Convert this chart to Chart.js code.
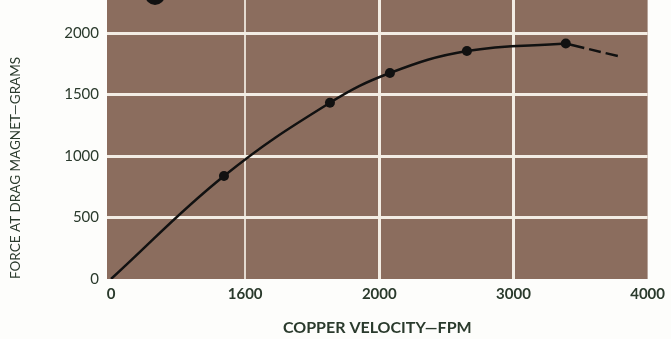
<!DOCTYPE html>
<html>
<head>
<meta charset="utf-8">
<script src="https://cdn.jsdelivr.net/npm/chart.js@4"></script>
<style>
html, body { margin: 0; padding: 0; background: #fdfdfb; }
#wrap { width: 671px; height: 339px; }
</style>
</head>
<body>
<div id="wrap"><canvas id="dragChart" width="671" height="339"></canvas></div>
<script>
// Axis ticks (the 1000 label is printed as "1600" in the original)
const xTicks = [0, 1000, 2000, 3000, 4000];
const xTickLabels = ["0", "1600", "2000", "3000", "4000"];
const yTicks = [0, 500, 1000, 1500, 2000];
const yTickLabels = ["0", "500", "1000", "1500", "2000"];

// Measured curve (copper velocity in FPM, force in grams)
const velocity = [0, 842, 1632, 2079, 2653, 3390];
const force = [0, 838, 1434, 1676, 1855, 1916];

// Dashed extrapolation past the last point
const extVelocity = [3390, 3778];
const extForce = [1916, 1814];

// Marker cut off at the top edge
const markVelocity = [328];
const markForce = [2311];

const textColor = "#2a3a2c";
const gridColor = "#f3ede4";

function pairs(xs, ys) {
    return xs.map((x, i) => ({ x: x, y: ys[i] }));
}

const plotBg = {
    id: "plotBg",
    beforeDraw(chart) {
        const { ctx, chartArea: a } = chart;
        ctx.save();
        ctx.fillStyle = "#8b6d5e";
        ctx.fillRect(a.left, a.top, a.right - a.left, a.bottom - a.top);
        ctx.restore();
    }
};

new Chart(document.getElementById("dragChart"), {
    type: "line",
    data: {
        datasets: [
            {
                label: "Force",
                data: pairs(velocity, force),
                borderColor: "#111",
                backgroundColor: "#111",
                borderWidth: 2.5,
                pointRadius: [0, 5, 5, 5, 5, 5],
                pointBackgroundColor: "#111",
                pointBorderWidth: 0,
                tension: 0.4,
                fill: false
            },
            {
                label: "Extrapolated",
                data: pairs(extVelocity, extForce),
                borderColor: "#111",
                borderWidth: 2.5,
                borderDash: [19, 5, 12, 5],
                pointRadius: 0,
                fill: false
            },
            {
                label: "Marker",
                data: pairs(markVelocity, markForce),
                showLine: false,
                pointRadius: 10,
                pointBackgroundColor: "#111",
                pointBorderWidth: 0
            }
        ]
    },
    options: {
        responsive: false,
        animation: false,
        devicePixelRatio: 1,
        layout: {
            autoPadding: false,
            padding: { left: 0, right: 23, top: 0, bottom: 0 }
        },
        plugins: {
            legend: { display: false },
            tooltip: { enabled: false }
        },
        scales: {
            x: {
                type: "linear",
                min: -30,
                max: 4000,
                afterBuildTicks: function(scale) {
                    scale.ticks = xTicks.map(v => ({ value: v }));
                },
                afterFit: function(scale) {
                    scale.height = 60;
                },
                border: { display: false },
                grid: {
                    drawTicks: false,
                    color: function(ctx) {
                        const v = ctx.tick ? ctx.tick.value : null;
                        if (v === 0 || v === 4000) return "rgba(0,0,0,0)";
                        if (v === 1000) return "rgba(243,237,228,0.85)";
                        return gridColor;
                    },
                    lineWidth: function(ctx) {
                        return ctx.tick && ctx.tick.value === 1000 ? 2 : 3;
                    }
                },
                ticks: {
                    padding: 6,
                    color: textColor,
                    font: { family: "Lato", size: 15, weight: "bold" },
                    callback: function(value, index) {
                        return xTickLabels[index];
                    }
                },
                title: {
                    display: true,
                    text: "COPPER VELOCITY—FPM",
                    color: textColor,
                    font: { family: "Lato", size: 16, weight: "bold" },
                    padding: { top: 3, bottom: 2 }
                }
            },
            y: {
                type: "linear",
                min: 0,
                max: 2270,
                afterBuildTicks: function(scale) {
                    scale.ticks = yTicks.map(v => ({ value: v }));
                },
                afterFit: function(scale) {
                    scale.width = 107;
                    scale.paddingTop = 0;
                    scale.paddingBottom = 0;
                },
                border: { display: false },
                grid: {
                    drawTicks: false,
                    color: function(ctx) {
                        return ctx.tick && ctx.tick.value === 0 ? "rgba(0,0,0,0)" : gridColor;
                    },
                    lineWidth: 3
                },
                ticks: {
                    padding: 8,
                    color: textColor,
                    font: { family: "Lato", size: 15 },
                    callback: function(value, index) {
                        return yTickLabels[index];
                    }
                },
                title: {
                    display: true,
                    text: "FORCE AT DRAG MAGNET—GRAMS",
                    align: "start",
                    color: textColor,
                    font: { family: "Lato", size: 13.5 },
                    padding: { top: 8, bottom: 0 }
                }
            }
        }
    },
    plugins: [plotBg]
});
</script>
</body>
</html>
